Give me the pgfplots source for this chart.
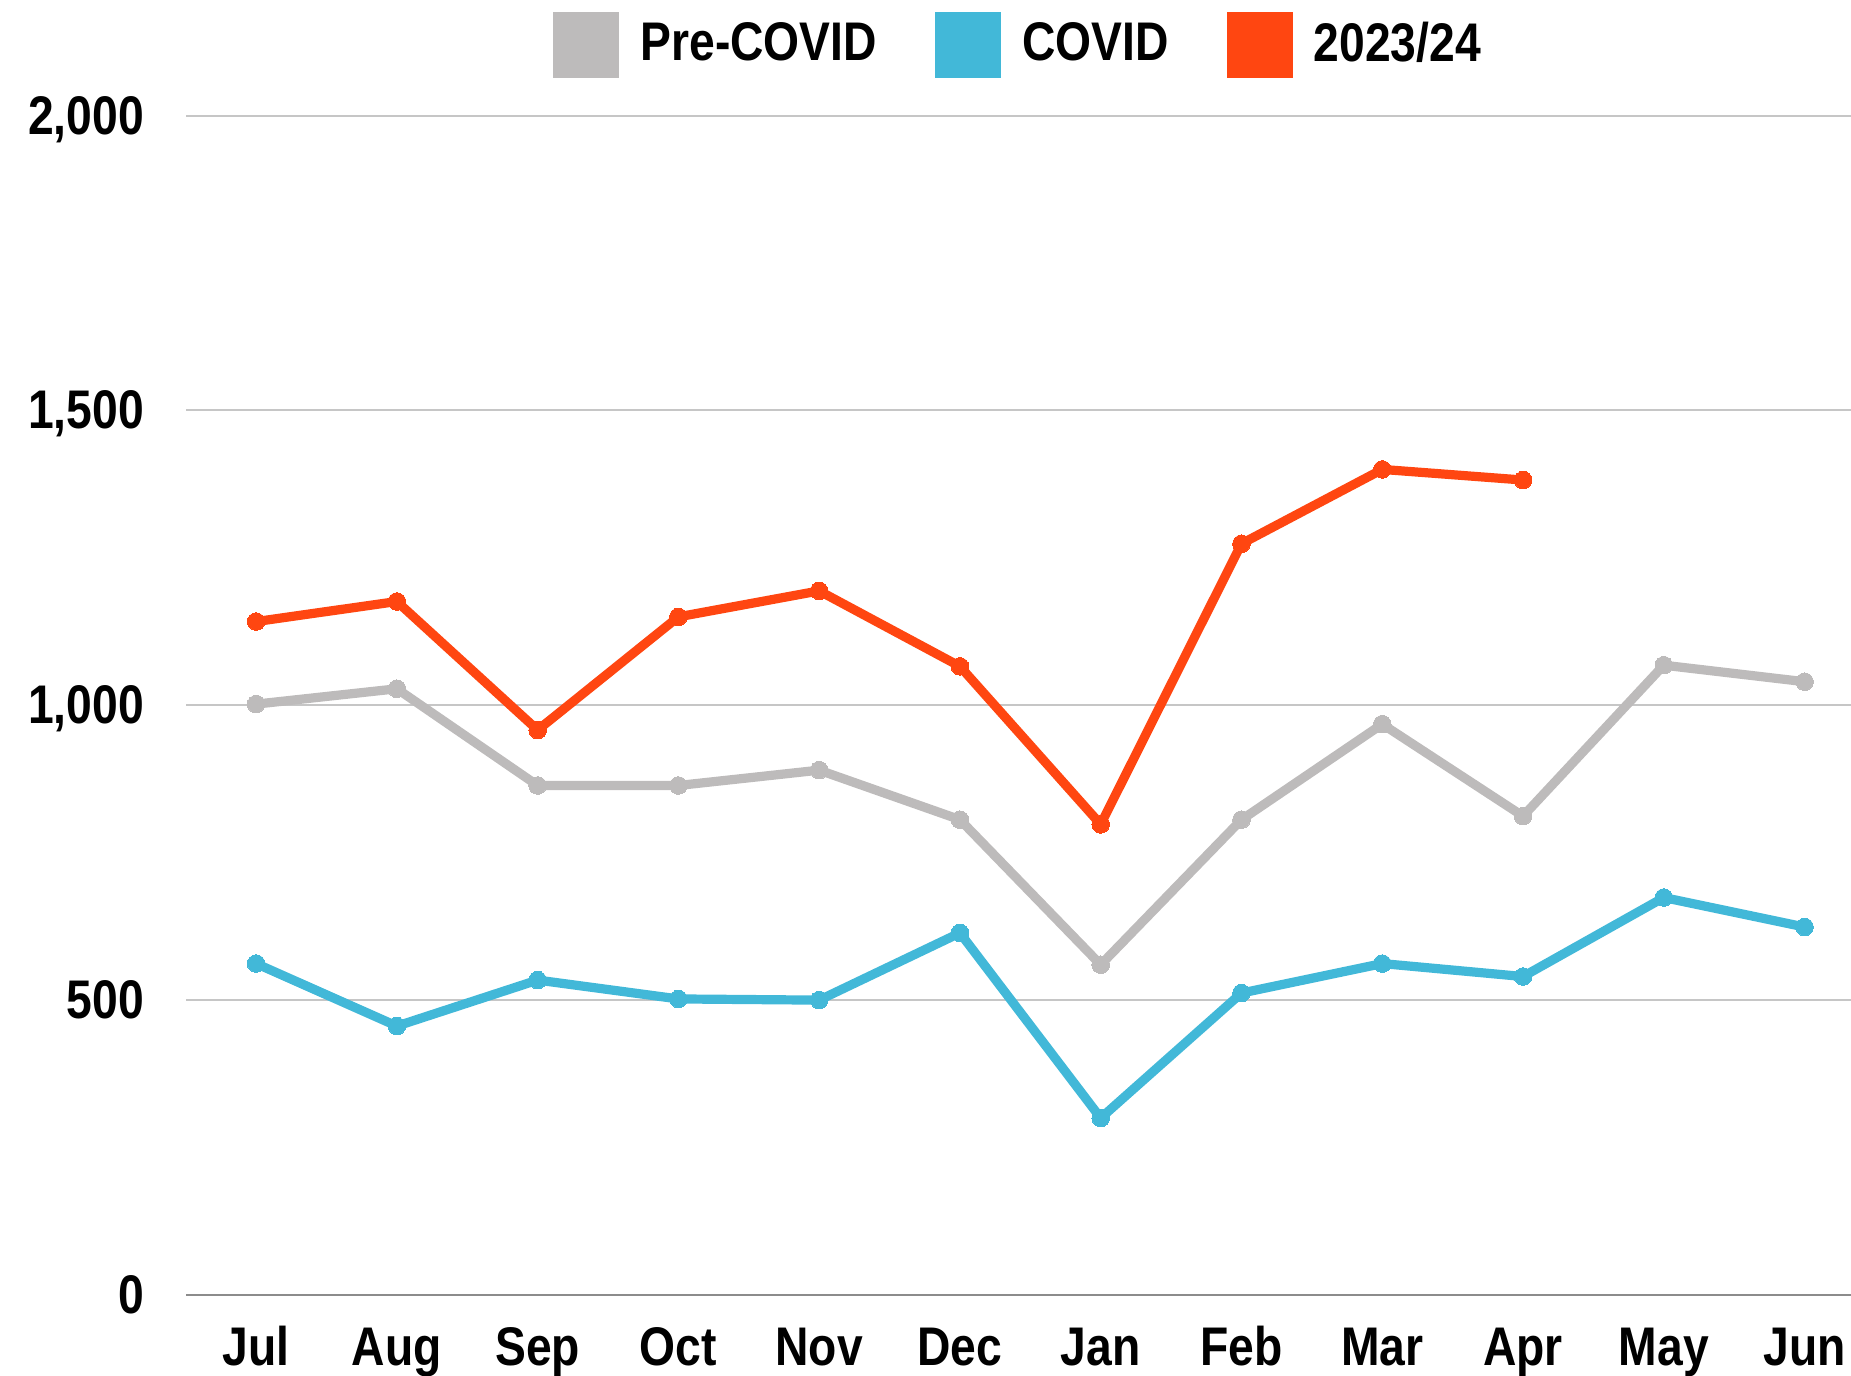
\documentclass[border=0pt]{standalone}
\usepackage{pgfplots}
\pgfplotsset{compat=1.18}
\usepackage{fontspec}
\setmainfont{Liberation Sans}[FakeStretch=0.85]
\definecolor{cpre}{HTML}{BDBBBB}
\definecolor{ccov}{HTML}{42B8D8}
\definecolor{cnow}{HTML}{FF4611}
\definecolor{cgrid}{HTML}{C6C6C6}
\definecolor{caxis}{HTML}{8C8C8C}
\pgfplotstableread{
x pre cov
0 1002 562
1 1028 456
2 864 534
3 864 502
4 890 500
5 806 614
6 560 300
7 806 512
8 968 562
9 812 540
10 1068 674
11 1040 624
}\tblA
\pgfplotstableread{
x now
0 1142
1 1176
2 958
3 1150
4 1194
5 1066
6 798
7 1274
8 1400
9 1382
}\tblB
\begin{document}
\begin{tikzpicture}
\begin{axis}[
  at={(0,0)}, anchor=south west,
  scale only axis, width=416.1pt, height=294.8pt,
  xmin=-0.495, xmax=11.33, ymin=0, ymax=2000,
  xtick={0,...,11},
  xticklabels={Jul,Aug,Sep,Oct,Nov,Dec,Jan,Feb,Mar,Apr,May,Jun},
  ytick={0,500,1000,1500,2000},
  axis x line*=bottom,
  axis y line*=left,
  y axis line style={draw=none},
  x axis line style={draw=caxis, line width=0.6pt, -},
  major tick length=0pt,
  ymajorgrids, grid style={draw=cgrid, line width=0.5pt},
  /pgf/number format/assume math mode=true,
  /pgf/number format/1000 sep={,},
  ticklabel style={font=\fontsize{13.6}{16}\selectfont\bfseries},
  yticklabel style={anchor=base east, xshift=-7.1pt, yshift=-4.6pt},
  xticklabel style={anchor=base, yshift=-17.75pt},
  clip=false,
  legend columns=3,
  legend style={draw=none, fill=none, at={(0.5,1)}, anchor=center, yshift=17.7pt, xshift=0.6pt,
    font=\fontsize{13.6}{16}\selectfont\bfseries,
    /tikz/every odd column/.append style={column sep=3.3pt},
    /tikz/every even column/.append style={column sep=12.5pt}},
  legend image code/.code={\fill[#1, draw=none] (0pt,-8.25pt) rectangle (16.5pt,8.25pt);},
]
\addplot[color=cpre, line width=2.3pt, mark=*, mark size=2.2pt, mark options={solid, line width=0pt}] table[x=x,y=pre]{\tblA};
\addlegendentry{Pre-COVID}
\addplot[color=ccov, line width=2.3pt, mark=*, mark size=2.2pt, mark options={solid, line width=0pt}] table[x=x,y=cov]{\tblA};
\addlegendentry{COVID}
\addplot[color=cnow, line width=2.3pt, mark=*, mark size=2.2pt, mark options={solid, line width=0pt}] table[x=x,y=now]{\tblB};
\addlegendentry{2023/24}
\end{axis}
\pgfresetboundingbox
\path[use as bounding box] (-46.6pt,-20.25pt) rectangle (416.1pt,323.7pt);
\end{tikzpicture}
\end{document}
